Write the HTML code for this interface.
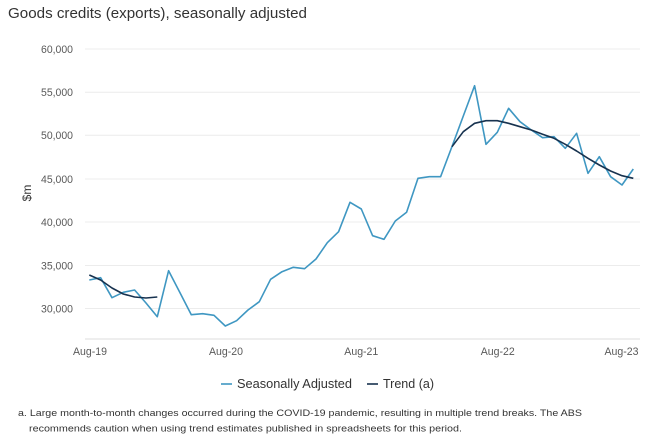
<!DOCTYPE html>
<html><head><meta charset="utf-8"><style>
html,body{margin:0;padding:0;background:#fff;}
svg{display:block;}
text{font-family:"Liberation Sans",sans-serif;}
</style></head><body>
<svg width="648" height="448" viewBox="0 0 648 448" xmlns="http://www.w3.org/2000/svg">
<rect width="648" height="448" fill="#fff"/>
<text x="8" y="18" font-size="14.5" fill="#333" textLength="299" lengthAdjust="spacingAndGlyphs">Goods credits (exports), seasonally adjusted</text>
<g stroke="#ececec" stroke-width="1">
<line x1="85" y1="49" x2="640" y2="49"/>
<line x1="85" y1="92.3" x2="640" y2="92.3"/>
<line x1="85" y1="135.3" x2="640" y2="135.3"/>
<line x1="85" y1="179" x2="640" y2="179"/>
<line x1="85" y1="222" x2="640" y2="222"/>
<line x1="85" y1="265.5" x2="640" y2="265.5"/>
<line x1="85" y1="308.5" x2="640" y2="308.5"/>
</g>
<line x1="85" y1="339" x2="640" y2="339" stroke="#e3e3e3" stroke-width="1.2"/>
<g font-size="11" fill="#595959" text-anchor="end">
<text x="73" y="53" textLength="32" lengthAdjust="spacingAndGlyphs">60,000</text>
<text x="73" y="96" textLength="32" lengthAdjust="spacingAndGlyphs">55,000</text>
<text x="73" y="139" textLength="32" lengthAdjust="spacingAndGlyphs">50,000</text>
<text x="73" y="183" textLength="32" lengthAdjust="spacingAndGlyphs">45,000</text>
<text x="73" y="226" textLength="32" lengthAdjust="spacingAndGlyphs">40,000</text>
<text x="73" y="269.5" textLength="32" lengthAdjust="spacingAndGlyphs">35,000</text>
<text x="73" y="312.5" textLength="32" lengthAdjust="spacingAndGlyphs">30,000</text>
</g>
<text transform="translate(31,193) rotate(-90)" font-size="12" fill="#333" text-anchor="middle">$m</text>
<g font-size="11" fill="#595959" text-anchor="middle">
<text x="90" y="355" textLength="34" lengthAdjust="spacingAndGlyphs">Aug-19</text>
<text x="226" y="355" textLength="34" lengthAdjust="spacingAndGlyphs">Aug-20</text>
<text x="361.3" y="355" textLength="34" lengthAdjust="spacingAndGlyphs">Aug-21</text>
<text x="497.7" y="355" textLength="34" lengthAdjust="spacingAndGlyphs">Aug-22</text>
<text x="621.5" y="355" textLength="34" lengthAdjust="spacingAndGlyphs">Aug-23</text>
</g>
<polyline fill="none" stroke="#3f97c2" stroke-width="1.6" stroke-linejoin="round" points="89.3,280 100.6,277.7 112,297.7 123.3,292.3 134.6,290 146,303 157.3,316.7 168.6,270.7 180,292.7 191.3,314.7 202.6,313.7 214,315.3 225.3,326 236.6,320.7 248,310 259.3,301.7 270.6,279.3 282,271.7 293.3,267.3 304.6,268.7 316,259 327.3,242.7 338.6,231.7 350,202.3 361.3,209 372.6,235.7 384,239.3 395.3,221 406.6,212.3 418,178.3 429.3,176.7 440.6,176.7 452,146.5 463.3,116 474.6,85.7 486,144.3 497.3,132.3 508.6,108.3 520,121.7 531.3,130 542.6,137.7 554,136.7 565.3,148.3 576.6,133.3 588,173.3 599.3,156.7 610.6,176.7 622,185 633.3,169"/>
<polyline fill="none" stroke="#17324f" stroke-width="1.6" stroke-linejoin="round" points="89.3,275 100.6,280 112,288 123.3,294 134.6,297 146,298 157.3,297"/>
<polyline fill="none" stroke="#17324f" stroke-width="1.6" stroke-linejoin="round" points="452,146.7 463.3,131.7 474.6,123.3 486,120.7 497.3,120.7 508.6,123.3 520,126.7 531.3,130 542.6,134.3 554,138.3 565.3,144.3 576.6,151 588,158.3 599.3,165 610.6,171 622,175.7 633.3,178.3"/>
<line x1="221" y1="384" x2="232" y2="384" stroke="#3f97c2" stroke-width="1.6"/>
<text x="237" y="388" font-size="12.5" fill="#333" textLength="115" lengthAdjust="spacingAndGlyphs">Seasonally Adjusted</text>
<line x1="367" y1="384" x2="378" y2="384" stroke="#17324f" stroke-width="1.6"/>
<text x="383" y="388" font-size="12.5" fill="#333" textLength="51" lengthAdjust="spacingAndGlyphs">Trend (a)</text>
<text x="18" y="416" font-size="9.5" fill="#333" textLength="564" lengthAdjust="spacingAndGlyphs">a. Large month-to-month changes occurred during the COVID-19 pandemic, resulting in multiple trend breaks. The ABS</text>
<text x="29" y="431.5" font-size="9.5" fill="#333" textLength="433" lengthAdjust="spacingAndGlyphs">recommends caution when using trend estimates published in spreadsheets for this period.</text>
</svg>
</body></html>
